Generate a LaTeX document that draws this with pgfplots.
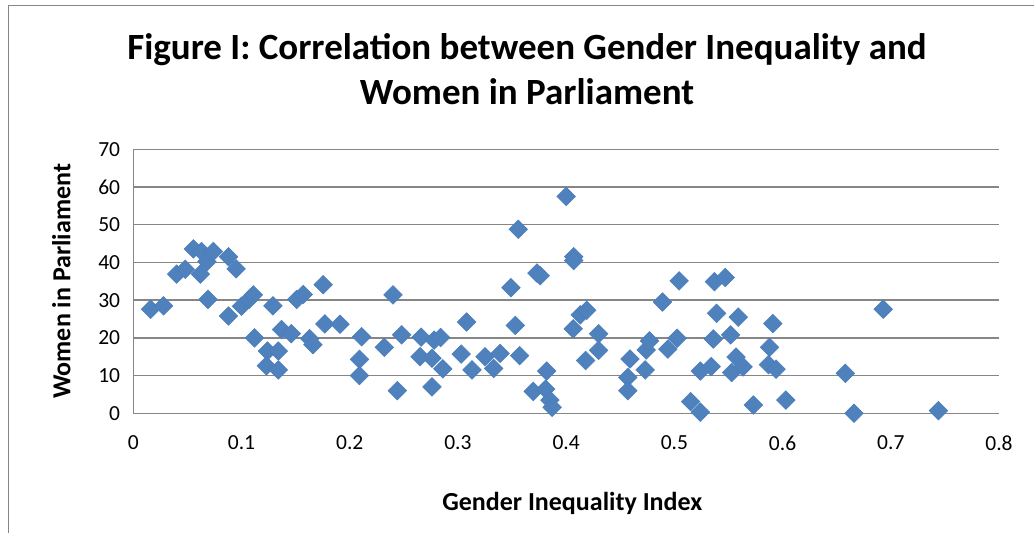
\documentclass[border=0pt]{standalone}
\usepackage{fontspec}
\setmainfont{Carlito}
\usepackage{pgfplots}
\pgfplotsset{compat=1.18}
\definecolor{mk}{HTML}{4F81BD}
\definecolor{mkd}{HTML}{4A7EBB}
\definecolor{gridc}{HTML}{868686}
\begin{document}
\begin{tikzpicture}[x=1pt,y=1pt]
\useasboundingbox (0,0) rectangle (1034,533);
\fill[white] (0,0) rectangle (1034,533);
\draw[gridc, line width=1pt] (8,-5) -- (8,527) -- (1040,527);
\node[anchor=base, font=\fontsize{37}{44}\selectfont\bfseries] at (527,473) {Figure I: Correlation between Gender Inequality and};
\node[anchor=base, font=\fontsize{37}{44}\selectfont\bfseries] at (527,428) {Women in Parliament};
\begin{axis}[
  at={(133.3pt,119.7pt)}, anchor=south west,
  scale only axis, width=865.7pt, height=264pt,
  xmin=0, xmax=0.8, ymin=0, ymax=70,
  xtick={0,0.1,0.2,0.3,0.4,0.5,0.6,0.7,0.8},
  ytick={0,10,20,30,40,50,60,70},
  axis line style={draw=none},
  major tick length=0pt,
  ymajorgrids, grid style={gridc, line width=1.4pt},
  /pgf/number format/assume math mode=true,
  tick label style={font=\fontsize{21.5}{25}\selectfont, inner sep=0pt},
  yticklabel style={xshift=-13pt},
  xticklabel style={yshift=-22pt},
  xlabel={Gender Inequality Index},
  ylabel={Women in Parliament},
  label style={font=\fontsize{26}{30}\selectfont\bfseries},
  xlabel style={at={(axis description cs:0.507,0)}, anchor=center, yshift=-90pt},
  ylabel style={at={(axis description cs:0,0.5)}, anchor=center, rotate=0, yshift=72pt},
  clip=false,
  extra description/.code={\draw[gridc, line width=1.4pt] (axis description cs:0,0) -- (axis description cs:0,1);},
]
\addplot[only marks, mark=square*, mark size=6.6pt, mark options={rotate=45, fill=mk, draw=mkd, line width=0.5pt}] table {
x y
0.016 27.6
0.028 28.5
0.040 36.9
0.048 38.2
0.0555 43.6
0.063 42.9
0.062 36.9
0.068 40.2
0.074 42.9
0.069 30.2
0.088 41.5
0.095 38.3
0.088 25.8
0.100 28.4
0.107 30.2
0.111 31.4
0.129 28.5
0.112 20.0
0.137 22.2
0.146 21.1
0.151 30.2
0.157 31.5
0.1755 34.1
0.163 19.8
0.166 18.2
0.177 23.7
0.191 23.6
0.124 16.5
0.134 16.5
0.123 12.6
0.134 11.5
0.211 20.3
0.209 14.3
0.209 10.0
0.232 17.5
0.240 31.4
0.244 6.0
0.248 20.8
0.265 15.0
0.266 20.2
0.276 14.6
0.276 7.0
0.278 19.4
0.284 20.1
0.286 11.8
0.303 15.7
0.308 24.2
0.313 11.5
0.325 15.0
0.333 11.9
0.339 15.9
0.349 33.3
0.353 23.3
0.3557 48.8
0.357 15.3
0.373 37.2
0.376 36.5
0.3696 5.8
0.382 11.2
0.381 6.4
0.385 3.5
0.387 1.6
0.400 57.5
0.407 41.5
0.407 40.5
0.413 26.1
0.419 27.3
0.4065 22.4
0.430 21.1
0.430 16.7
0.418 14.0
0.459 14.4
0.457 9.5
0.457 6.0
0.473 11.5
0.474 16.8
0.477 19.2
0.489 29.5
0.494 17.0
0.5025 19.9
0.5044 35.1
0.515 3.1
0.524 0.3
0.524 11.2
0.534 12.4
0.536 19.7
0.539 26.5
0.537 34.9
0.547 36.0
0.552 20.8
0.559 25.5
0.557 14.9
0.553 10.8
0.5635 12.3
0.573 2.2
0.591 23.8
0.588 17.5
0.587 12.9
0.594 11.7
0.603 3.5
0.658 10.6
0.666 0.0
0.693 27.6
0.744 0.7
};
\end{axis}
\end{tikzpicture}
\end{document}
